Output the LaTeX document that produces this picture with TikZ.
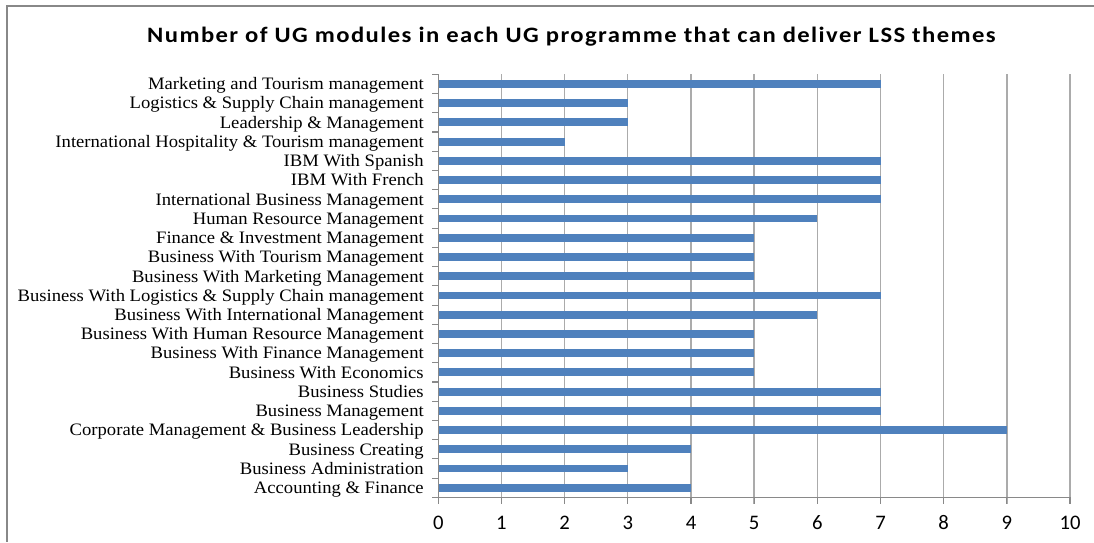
\documentclass[tikz,border=0pt]{standalone}
\usepackage{fontspec}
\setmainfont{Liberation Serif}[FakeStretch=1.067]
\newfontfamily\chartsans{Carlito}
\newfontfamily\titlesans{Carlito}[FakeStretch=1.12,LetterSpace=6.5]
\usepackage{tikz}
\usetikzlibrary{positioning}
\definecolor{barblue}{HTML}{4F81BD}
\definecolor{gridgray}{HTML}{ABABAB}
\definecolor{framegray}{HTML}{888888}
\tikzset{
	category/.style={anchor=base east,inner sep=0pt,font=\fontsize{13.1}{13.1}\selectfont},
	ticklabel/.style={anchor=base,inner sep=0pt,font=\chartsans\fontsize{15.5}{15.5}\selectfont},
	gridline/.style={draw=gridgray,line width=1pt},
	axisline/.style={draw=gridgray!80!black,line width=0.8pt}
}

\begin{document}
\begin{tikzpicture}[x=0.75pt,y=-0.75pt]
	\useasboundingbox (0,0) rectangle (1094,542);
	\fill[white] (0,0) rectangle (1094,542);
	\draw[framegray,line width=1.2pt] (1094,6) -- (7,6) -- (7,542);

	\node[anchor=base,inner sep=0pt,font=\titlesans\bfseries\fontsize{16.5}{16.5}\selectfont] (title) at (571.5,42.7) {Number of UG modules in each UG programme that can deliver LSS themes};

	% grid and x axis
	\foreach \x in {1,...,10}
		\draw[gridline] (438.3+63.17*\x,74.3) -- (438.3+63.17*\x,503.5);
	\foreach \x in {0,...,10}
	{
		\draw[axisline] (438.3+63.17*\x,497.4) -- (438.3+63.17*\x,503.5);
		\node[ticklabel] (tick\x) at (438.3+63.17*\x,529.3) {\x};
	}

	% bars
	\foreach \name/\val [count=\i] in {
		Marketing and Tourism management/7,
		Logistics \& Supply Chain management/3,
		Leadership \& Management/3,
		International Hospitality \& Tourism management/2,
		IBM With Spanish/7,
		IBM With French/7,
		International Business Management/7,
		Human Resource Management/6,
		Finance \& Investment Management/5,
		Business With Tourism Management/5,
		Business With Marketing Management/5,
		Business With Logistics \& Supply Chain management/7,
		Business With International Management/6,
		Business With Human Resource Management/5,
		Business With Finance Management/5,
		Business With Economics/5,
		Business Studies/7,
		Business Management/7,
		Corporate Management \& Business Leadership/9,
		Business Creating/4,
		Business Administration/3,
		Accounting \& Finance/4}
	{
		\fill[barblue] (438.3,74.3+19.23*\i-9.615-3.9) rectangle (438.3+63.17*\val,74.3+19.23*\i-9.615+3.9);
		\node[category] (lab\i) at (424,74.3+19.23*\i-9.615+5.8) {\name};
		\draw[axisline] (432.3,74.3+19.23*\i-19.23) -- (438.3,74.3+19.23*\i-19.23);
	}
	\draw[axisline] (432.3,497.4) -- (438.3,497.4);
	\draw[axisline] (438.3,74.3) -- (438.3,497.4) -- (1070,497.4);
\end{tikzpicture}
\end{document}
